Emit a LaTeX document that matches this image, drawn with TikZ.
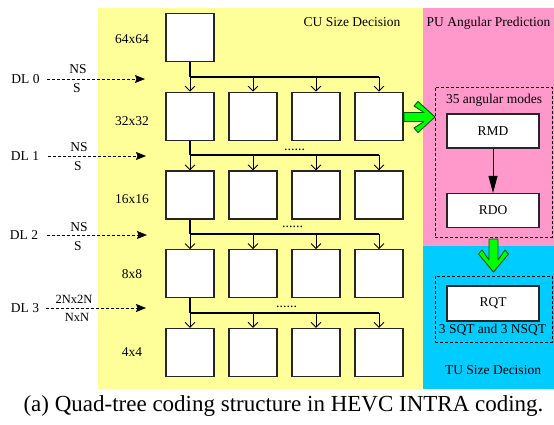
\documentclass[tikz,border=0pt]{standalone}
\usepackage{fontspec}
\setmainfont{Liberation Serif}
\usetikzlibrary{arrows.meta}
\definecolor{cuyellow}{RGB}{255,255,153}
\definecolor{pupink}{RGB}{255,153,204}
\definecolor{tucyan}{RGB}{0,204,255}
\definecolor{agreen}{RGB}{0,255,0}
\definecolor{dgreen}{RGB}{0,90,0}
\begin{document}
\begin{tikzpicture}[x=1pt,y=-1pt,
  lbl/.style={font=\fontsize{13.5}{16}\selectfont, inner sep=0pt, text height=9pt, text depth=0pt},
  cubox/.style={draw=black!85, fill=white, line width=1.1pt, minimum width=48pt, minimum height=48pt, inner sep=0pt},
  pubox/.style={draw=black!85, fill=white, line width=1.1pt, minimum width=92pt, minimum height=34pt, inner sep=0pt, font=\fontsize{13.5}{16}\selectfont},
  dashbox/.style={draw=black, dashed, dash pattern=on 3pt off 2pt, line width=0.8pt, inner sep=0pt},
  stem/.style={line width=2pt, draw=black},
  bus/.style={line width=1.2pt, draw=black},
  cuarrow/.style={line width=0.9pt, draw=black, -{Straight Barb[length=5pt,width=10pt,line width=0.9pt]}},
  dlarrow/.style={line width=0.9pt, draw=black, dash pattern=on 3pt off 2pt, -{Stealth[length=10pt,width=8pt,inset=1.5pt]}},
  modearrow/.style={line width=0.9pt, draw=black, -{Triangle[length=17pt,width=9pt]}},
  greenarrow/.style={fill=agreen, draw=dgreen, line width=0.9pt, line join=round},
  dots/.style={font=\fontsize{14}{16}\selectfont, inner sep=0pt, anchor=base}
]
\useasboundingbox (0,0) rectangle (554,424);
% regions
\fill[cuyellow] (98,8) rectangle (423,389);
\fill[pupink] (423,8) rectangle (554,246);
\fill[tucyan] (423,246) rectangle (554,389);

% titles
\node[lbl] (cut) at (352,22) {CU Size Decision};
\node[lbl] (put) at (488.5,22) {PU Angular Prediction};
\node[lbl] (tut) at (493,370) {TU Size Decision};

% size labels
\node[lbl] (s0) at (132,39) {64x64};
\node[lbl] (s1) at (132,121) {32x32};
\node[lbl] (s2) at (132,199) {16x16};
\node[lbl] (s3) at (132,274) {8x8};
\node[lbl] (s4) at (132,352) {4x4};

% CU boxes
\node[cubox] (b01) at (190,37.5) {};
\foreach \r/\y in {1/116.25,2/195,3/273.75,4/352.5}{
  \foreach \c/\x in {1/190,2/253,3/316,4/379}{
    \node[cubox] (b\r\c) at (\x,\y) {};
  }
}

% buses
\foreach \p/\r/\by in {0/1/77,1/2/155,2/3/234,3/4/313}{
  \coordinate (j\r) at (190,\by);
  \draw[stem] (b\p1.south) -- (j\r);
  \draw[bus] (j\r) -- (j\r -| b\r4.north);
  \foreach \c in {1,2,3,4}{
    \draw[cuarrow] (j\r -| b\r\c.north) -- (b\r\c.north);
  }
}

% dots
\node[dots] (d1) at (294.5,150.5) {......};
\node[dots] (d2) at (292.5,227.5) {......};
\node[dots] (d3) at (286.5,307.5) {......};

% DL labels and arrows
\node[lbl] (dl0) at (25.5,79) {DL 0};
\node[lbl] (dl1) at (25,156) {DL 1};
\node[lbl] (dl2) at (24,235) {DL 2};
\node[lbl] (dl3) at (25,308) {DL 3};
\coordinate (t0) at (145,79);
\coordinate (t1) at (146,156);
\coordinate (t2) at (147,235);
\coordinate (t3) at (146,308);
\draw[dlarrow, shorten <=7pt] (dl0.east) -- (t0);
\draw[dlarrow, shorten <=9pt] (dl1.east) -- (t1);
\draw[dlarrow, shorten <=9pt] (dl2.east) -- (t2);
\draw[dlarrow, shorten <=7pt] (dl3.east) -- (t3);
\node[lbl] (ns0) at (78,69) {NS};
\node[lbl] (sv0) at (77,88) {S};
\node[lbl] (ns1) at (79,147) {NS};
\node[lbl] (sv1) at (78,166) {S};
\node[lbl] (ns2) at (79,227) {NS};
\node[lbl] (sv2) at (78,246) {S};
\node[lbl, font=\fontsize{12.5}{15}\selectfont] (ns3) at (74,299) {2Nx2N};
\node[lbl, font=\fontsize{12.5}{15}\selectfont] (sv3) at (77,317) {NxN};

% PU panel
\node[dashbox, minimum width=117pt, minimum height=150pt] (pubox) at (493.5,162) {};
\node[lbl] (am) at (494,99) {35 angular modes};
\node[pubox] (rmd) at (493,131) {RMD};
\node[pubox] (rdo) at (493,210.5) {RDO};
\draw[modearrow] (rmd.south) -- (rdo.north);

% TU panel
\node[dashbox, minimum width=117pt, minimum height=66pt] (tubox) at (493.5,309) {};
\node[pubox, minimum height=35pt] (rqt) at (493,303.5) {RQT};
\node[lbl] (sq) at (492.5,329) {3 SQT and 3 NSQT};

% green arrows
\draw[greenarrow] (404,112.5) -- (424,112.5) -- (414,106) -- (418,101.5) -- (435,117)
  -- (418,132.5) -- (414,128) -- (424,121.5) -- (404,121.5) -- cycle;
\draw[greenarrow] (489,239) -- (489,260) -- (482,250) -- (478.5,254) -- (493.5,272)
  -- (508.5,254) -- (505,250) -- (498,260) -- (498,239) -- cycle;

% caption
\node[font=\fontsize{23}{26}\selectfont, inner sep=0pt] (cap) at (283.5,406) {(a) Quad-tree coding structure in HEVC INTRA coding.};
\end{tikzpicture}
\end{document}
